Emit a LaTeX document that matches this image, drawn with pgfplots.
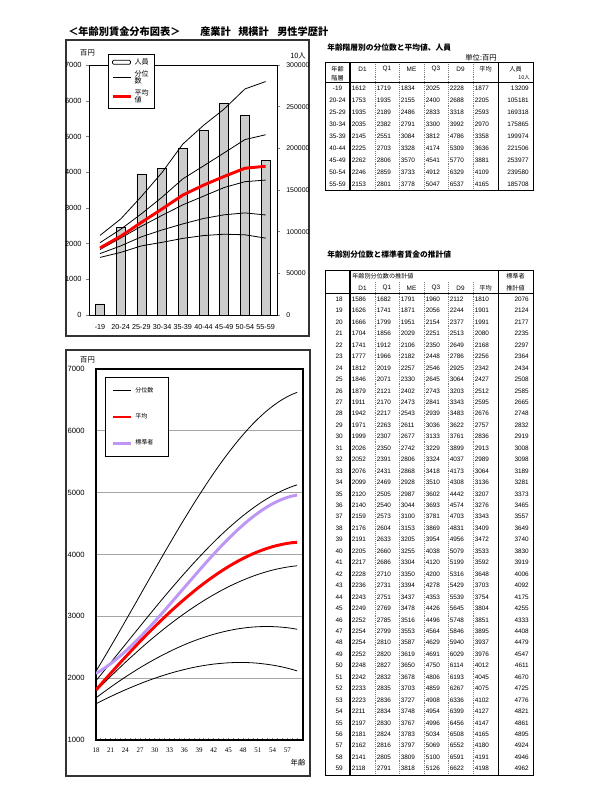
\documentclass[border=0pt]{standalone}
\usepackage{fontspec}
\setmainfont{Liberation Sans}
\newfontfamily\jp{Noto Sans CJK JP}
\newfontfamily\serifnum{Liberation Serif}
\usepackage{pgfplots}
\usepackage{pgfplotstable}
\pgfplotsset{compat=1.18}
\definecolor{lav}{RGB}{190,150,245}
\newcommand\FS[1]{\fontsize{#1}{#1}\selectfont}

\pgfplotstableread{
g D1 Q1 ME Q3 D9 AV N
0 1612 1719 1834 2025 2228 1877 13209
1 1753 1935 2155 2400 2688 2205 105181
2 1935 2189 2486 2833 3318 2593 169318
3 2035 2382 2791 3300 3992 2970 175865
4 2145 2551 3084 3812 4786 3358 199974
5 2225 2703 3328 4174 5309 3636 221506
6 2262 2806 3570 4541 5770 3881 253977
7 2246 2859 3733 4912 6329 4109 239580
8 2153 2801 3778 5047 6537 4165 185708
}\tabA

\pgfplotstableread{
age D1 Q1 ME Q3 D9 AV ST
18 1586 1682 1791 1960 2112 1810 2076
19 1626 1741 1871 2056 2244 1901 2124
20 1666 1799 1951 2154 2377 1991 2177
21 1704 1856 2029 2251 2513 2080 2235
22 1741 1912 2106 2350 2649 2168 2297
23 1777 1966 2182 2448 2786 2256 2364
24 1812 2019 2257 2546 2925 2342 2434
25 1846 2071 2330 2645 3064 2427 2508
26 1879 2121 2402 2743 3203 2512 2585
27 1911 2170 2473 2841 3343 2595 2665
28 1942 2217 2543 2939 3483 2676 2748
29 1971 2263 2611 3036 3622 2757 2832
30 1999 2307 2677 3133 3761 2836 2919
31 2026 2350 2742 3229 3899 2913 3008
32 2052 2391 2806 3324 4037 2989 3098
33 2076 2431 2868 3418 4173 3064 3189
34 2099 2469 2928 3510 4308 3136 3281
35 2120 2505 2987 3602 4442 3207 3373
36 2140 2540 3044 3693 4574 3276 3465
37 2159 2573 3100 3781 4703 3343 3557
38 2176 2604 3153 3869 4831 3409 3649
39 2191 2633 3205 3954 4956 3472 3740
40 2205 2660 3255 4038 5079 3533 3830
41 2217 2686 3304 4120 5199 3592 3919
42 2228 2710 3350 4200 5316 3648 4006
43 2236 2731 3394 4278 5429 3703 4092
44 2243 2751 3437 4353 5539 3754 4175
45 2249 2769 3478 4426 5645 3804 4255
46 2252 2785 3516 4496 5748 3851 4333
47 2254 2799 3553 4564 5846 3895 4408
48 2254 2810 3587 4629 5940 3937 4479
49 2252 2820 3619 4691 6029 3976 4547
50 2248 2827 3650 4750 6114 4012 4611
51 2242 2832 3678 4806 6193 4045 4670
52 2233 2835 3703 4859 6267 4075 4725
53 2223 2836 3727 4908 6336 4102 4776
54 2211 2834 3748 4954 6399 4127 4821
55 2197 2830 3767 4996 6456 4147 4861
56 2181 2824 3783 5034 6508 4165 4895
57 2162 2816 3797 5069 6552 4180 4924
58 2141 2805 3809 5100 6591 4191 4946
59 2118 2791 3818 5126 6622 4198 4962
}\tabB

\pgfplotsset{
  /pgf/number format/fixed,
  /pgf/number format/precision=0,
  /pgf/number format/set thousands separator={},
  /pgf/number format/assume math mode=true,
}

\begin{document}
\begin{tikzpicture}
\begin{scope}[x=0.75pt,y=-0.75pt]
\path[use as bounding box] (0,0) rectangle (600,800);
\fill[white] (0,0) rectangle (600,800);
% title
\node[anchor=west, inner sep=0, font=\jp\bfseries\FS{7.65}] at (68,32) {＜年齢別賃金分布図表＞};
\node[anchor=west, inner sep=0, font=\jp\bfseries\FS{7.65}] at (200,32) {産業計};
\node[anchor=west, inner sep=0, font=\jp\bfseries\FS{7.65}] at (238,32) {規模計};
\node[anchor=west, inner sep=0, font=\jp\bfseries\FS{7.65}] at (277,32) {男性学歴計};
% frames
\draw[line width=0.9pt, black!80] (66,40) rectangle (309,336);
\draw[line width=0.9pt, black!80] (66,350) rectangle (310,776);
% chart labels
\node[font=\jp\FS{5.5}] at (87.5,53) {百円};
\node[font=\jp\FS{5.5}] at (298,56) {10人};
\node[font=\jp\FS{5.5}] at (87.5,360) {百円};
\node[font=\jp\FS{5.5}] at (298,763) {年齢};

% ---------- table 1 ----------
\node[anchor=west, font=\jp\bfseries\FS{5.8}, inner sep=0] at (327,48) {年齢階層別の分位数と平均値、人員};
\node[anchor=east, font=\jp\FS{5.5}, inner sep=0] at (497,58) {単位:百円};
\foreach \x in {375,399,424,448,473} \draw[gray, line width=0.45pt, densely dotted] (\x,62) -- (\x,190);
\draw[line width=0.7pt] (325,62) rectangle (533,190);
\draw[line width=0.7pt] (325,82) -- (533,82);
\draw[line width=0.9pt] (350,62) -- (350,190);
\draw[line width=0.7pt] (498,62) -- (498,190);
\foreach \t/\x in {D1/362.5, Q1/387, ME/411.5, Q3/436, D9/460.5} \node[font=\FS{4.8}, inner sep=0] at (\x,69) {\t};
\node[font=\jp\FS{4.6}, inner sep=0] at (485.5,69) {平均};
\node[font=\jp\FS{4.6}, inner sep=0] at (515.5,69) {人員};
\node[font=\jp\FS{4.6}, inner sep=0] at (337.5,69) {年齢};
\node[font=\jp\FS{4.6}, inner sep=0] at (337.5,78) {階層};
\node[anchor=east, font=\jp\FS{4}, inner sep=0] at (530,78) {10人};
\foreach \lab [count=\i from 0] in {-19,20-24,25-29,30-34,35-39,40-44,45-49,50-54,55-59}{
  \pgfmathsetmacro\yy{88+12*\i}
  \node[font=\FS{4.8}, inner sep=0] at (337.5,\yy) {\lab};
  \foreach \c/\xx in {D1/351.5,Q1/376.5,ME/400.5,Q3/425.5,D9/449.5,AV/474.5}{
    \pgfplotstablegetelem{\i}{\c}\of\tabA
    \node[anchor=west, font=\FS{4.8}, inner sep=0] at (\xx,\yy) {\pgfplotsretval};
  }
  \pgfplotstablegetelem{\i}{N}\of\tabA
  \node[anchor=east, font=\FS{4.8}, inner sep=0] at (529,\yy) {\pgfplotsretval};
}

% ---------- table 2 ----------
\node[anchor=west, font=\jp\bfseries\FS{5.8}, inner sep=0] at (327,255) {年齢別分位数と標準者賃金の推計値};
\foreach \x in {375,399,424,448,473} \draw[gray, line width=0.45pt, densely dotted] (\x,282) -- (\x,775);
\draw[line width=0.7pt] (325,270.5) rectangle (533,775);
\draw[line width=0.7pt] (325,293.5) -- (533,293.5);
\draw[line width=0.9pt] (350,270.5) -- (350,775);
\draw[line width=0.7pt] (498,270.5) -- (498,775);
\node[anchor=west, font=\jp\FS{4.6}, inner sep=0] at (352,276.5) {年齢別分位数の推計値};
\node[font=\jp\FS{4.6}, inner sep=0] at (515.5,276.5) {標準者};
\node[font=\jp\FS{4.6}, inner sep=0] at (515.5,288) {推計値};
\foreach \t/\x in {D1/362.5, Q1/387, ME/411.5, Q3/436, D9/460.5} \node[font=\FS{4.8}, inner sep=0] at (\x,288) {\t};
\node[font=\jp\FS{4.6}, inner sep=0] at (485.5,288) {平均};
\foreach \i in {0,...,41}{
  \pgfmathsetmacro\yy{299.2+11.45*\i}
  \pgfplotstablegetelem{\i}{age}\of\tabB
  \node[anchor=east, font=\FS{4.8}, inner sep=0] at (343,\yy) {\pgfplotsretval};
  \foreach \c/\xx in {D1/351.5,Q1/376.5,ME/400.5,Q3/425.5,D9/449.5,AV/474.5}{
    \pgfplotstablegetelem{\i}{\c}\of\tabB
    \node[anchor=west, font=\FS{4.8}, inner sep=0] at (\xx,\yy) {\pgfplotsretval};
  }
  \pgfplotstablegetelem{\i}{ST}\of\tabB
  \node[anchor=east, font=\FS{4.8}, inner sep=0] at (529,\yy) {\pgfplotsretval};
}
\end{scope}

% ---------- top chart: bars on right axis ----------
\begin{axis}[at={(66.75pt,-236.25pt)}, anchor=south west, scale only axis,
  width=141pt, height=187.5pt, xmin=-0.53, xmax=8.55, ymin=0, ymax=300000,
  axis x line=none, axis y line*=right, axis line style={line width=0.6pt},
  ytick={0,50000,100000,150000,200000,250000,300000}, scaled y ticks=false,
  yticklabel style={font=\FS{5.2}, xshift=1.5pt},
  tick align=outside, major tick length=2pt, ytick style={line width=0.5pt}]
\addplot[ybar, bar width=6.75pt, draw=black, line width=0.5pt, fill=gray!40] table[x=g,y=N]{\tabA};
\end{axis}

% ---------- top chart: lines on left axis ----------
\begin{axis}[at={(66.75pt,-236.25pt)}, anchor=south west, scale only axis,
  width=141pt, height=187.5pt, xmin=-0.53, xmax=8.55, ymin=0, ymax=7000,
  ytick={0,1000,...,7000}, ytick pos=left, xtick={0,...,8},
  xticklabels={-19,20-24,25-29,30-34,35-39,40-44,45-49,50-54,55-59},
  xtick style={draw=none}, tick align=outside, major tick length=2pt,
  axis line style={line width=0.6pt}, scaled y ticks=false,
  yticklabel style={font=\FS{5.6}},
  xticklabel style={font=\FS{5.4}, yshift=-1.5pt},
  legend style={at={(0.101,1.044)}, anchor=north west, font=\jp\FS{5.3},
    draw=black, line width=0.6pt, inner xsep=2pt, inner ysep=1pt, row sep=-1pt,
    cells={anchor=west, align=left}},
  legend image code/.code={\draw[#1] (0pt,0pt) -- (13.5pt,0pt);}]
\addlegendimage{legend image code/.code={\draw[black, line width=0.5pt, fill=white, rounded corners=0.8pt] (0pt,-1.5pt) rectangle (13.5pt,1.5pt);}}
\addlegendentry{人員}
\addplot[black, line width=0.6pt] table[x=g,y=D1]{\tabA};
\addlegendentry{分位\\数}
\addplot[black, line width=0.6pt, forget plot] table[x=g,y=Q1]{\tabA};
\addplot[black, line width=0.6pt, forget plot] table[x=g,y=ME]{\tabA};
\addplot[black, line width=0.6pt, forget plot] table[x=g,y=Q3]{\tabA};
\addplot[black, line width=0.6pt, forget plot] table[x=g,y=D9]{\tabA};
\addplot[red, line width=2.2pt] table[x=g,y=AV]{\tabA};
\addlegendentry{平均\\値}
\end{axis}

% ---------- bottom chart ----------
\begin{axis}[at={(72pt,-555pt)}, anchor=south west, scale only axis,
  width=155.25pt, height=278.25pt, xmin=18, xmax=60.2, ymin=1000, ymax=7000,
  ytick={1000,2000,...,7000}, xtick={18,21,...,57}, minor xtick={18,...,60},
  ymajorgrids, major grid style={gray!70, line width=0.9pt},
  axis line style={line width=1.2pt}, ytick style={draw=none},
  xtick style={line width=0.7pt}, minor tick length=1.5pt, major tick length=1.5pt,
  tick align=inside, xtick pos=bottom, scaled y ticks=false,
  yticklabel style={font=\FS{5.7}, xshift=-5pt},
  xticklabel style={font=\serifnum\FS{5.2}, yshift=-2.5pt},
  legend style={at={(0.043,0.978)}, anchor=north west, font=\jp\FS{4.5},
    draw=black, line width=0.8pt, row sep=10.5pt, inner xsep=5pt, inner ysep=5pt,
    cells={anchor=west}},
  legend image code/.code={\draw[#1] (0pt,0pt) -- (13.5pt,0pt);}]
\addlegendimage{black, line width=0.6pt}\addlegendentry{分位数\hspace*{4pt}}
\addlegendimage{red, line width=2pt}\addlegendentry{平均}
\addlegendimage{lav, line width=2pt}\addlegendentry{標準者}
\addplot[black, line width=0.6pt, forget plot] table[x=age,y=D1]{\tabB};
\addplot[black, line width=0.6pt, forget plot] table[x=age,y=Q1]{\tabB};
\addplot[black, line width=0.6pt, forget plot] table[x=age,y=ME]{\tabB};
\addplot[black, line width=0.6pt, forget plot] table[x=age,y=Q3]{\tabB};
\addplot[black, line width=0.6pt, forget plot] table[x=age,y=D9]{\tabB};
\addplot[lav, line width=2.2pt, forget plot] table[x=age,y=ST]{\tabB};
\addplot[red, line width=2.2pt, forget plot] table[x=age,y=AV]{\tabB};
\end{axis}
\end{tikzpicture}
\end{document}
